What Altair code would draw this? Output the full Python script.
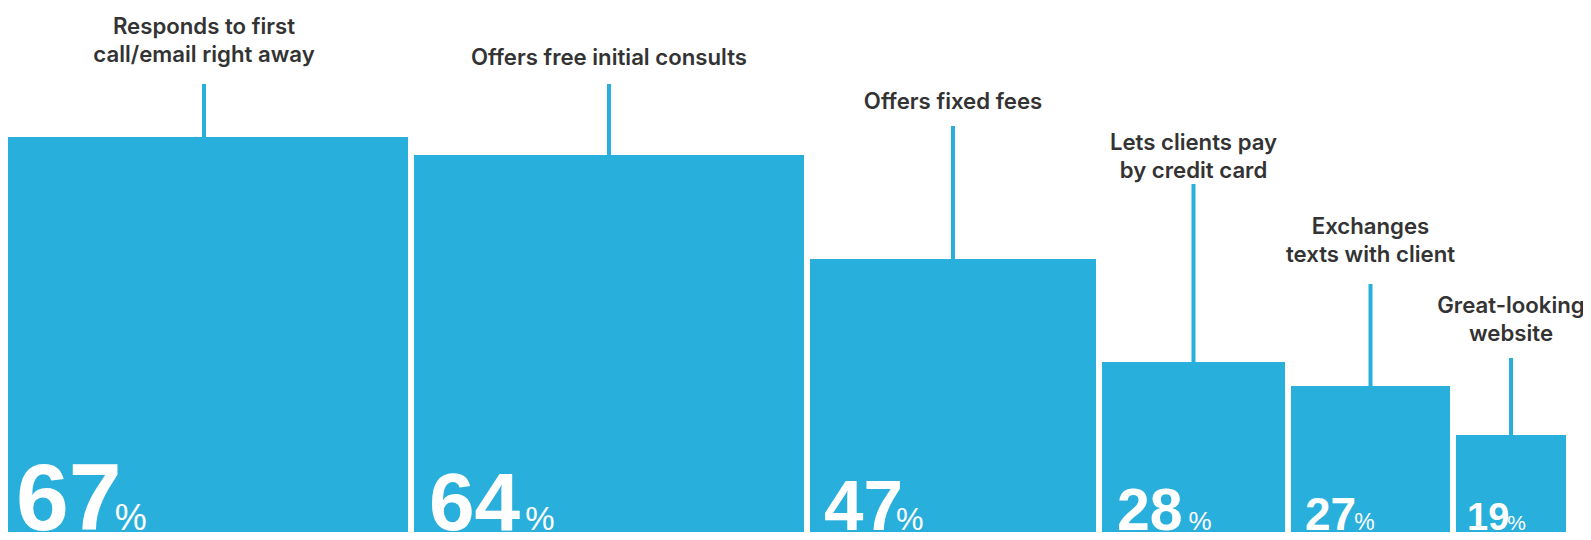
import altair as alt

# ---- data ----
labels = [
    ["Responds to first", "call/email right away"],
    ["Offers free initial consults"],
    ["Offers fixed fees"],
    ["Lets clients pay", "by credit card"],
    ["Exchanges", "texts with client"],
    ["Great-looking", "website"],
]
values = [67, 64, 47, 28, 27, 19]
square_side = [408, 390, 286, 183, 159, 110]   # side of each square block (chart units)

# ---- layout / style ----
GAP = 6
LINE_H = 28
label_base = [483, 480, 436, 367, 283, 204]    # baseline of last label line (chart units)
leader_top = [461, 461, 419, 361, 261, 187]    # top of the leader line (chart units)
num_font = [95, 82, 71, 59, 46, 38]
num_dx = [16, 15, 14, 15, 14, 11]
pct_font = [36, 33, 31, 26, 23, 21]
pct_adjust = [-6, 5, -8, 6, -3, -6]
NUM_BASE = 15
BAR_COLOR = "#28AFDC"
TEXT_COLOR = "#333333"

records = []
x = 0
for i, (lab, v, s) in enumerate(zip(labels, values, square_side)):
    records.append({
        "id": i, "label": lab, "value": v, "num": str(v), "pct": "%",
        "x0": x, "x1": x + s, "xc": x + s / 2,
        "zero": 0, "side": s,
        "label_y": label_base[i] + (len(lab) - 1) * LINE_H,
        "leader_y": leader_top[i],
        "num_y": NUM_BASE,
    })
    x += s + GAP

W, H = 1575, 524
xscale = alt.Scale(domain=[8, 8 + W], nice=False, zero=False)
yscale = alt.Scale(domain=[545 - 8 - H, 537], nice=False, zero=False)

base = alt.Chart(alt.InlineData(values=records))

bars = base.mark_rect(color=BAR_COLOR).encode(
    x=alt.X("x0:Q", scale=xscale, axis=None),
    x2="x1:Q",
    y=alt.Y("zero:Q", scale=yscale, axis=None),
    y2="side:Q",
)

leaders = base.mark_rule(color=BAR_COLOR, strokeWidth=4).encode(
    x=alt.X("xc:Q", scale=xscale, axis=None),
    y=alt.Y("side:Q", scale=yscale, axis=None),
    y2="leader_y:Q",
)

label_text = base.mark_text(
    font="Inter", fontSize=22.2, fontWeight=600, color=TEXT_COLOR,
    align="center", baseline="alphabetic", lineHeight=LINE_H,
).encode(
    x=alt.X("xc:Q", scale=xscale, axis=None),
    y=alt.Y("label_y:Q", scale=yscale, axis=None),
    text=alt.Text("label:N"),
)

layers = [bars, leaders, label_text]
for i in range(len(values)):
    sub = base.transform_filter(alt.datum.id == i)
    layers.append(sub.mark_text(
        font="Liberation Sans", fontWeight="bold", fontSize=num_font[i],
        color="white", align="left", baseline="alphabetic", dx=num_dx[i],
    ).encode(
        x=alt.X("x0:Q", scale=xscale, axis=None),
        y=alt.Y("num_y:Q", scale=yscale, axis=None),
        text=alt.Text("num:N"),
    ))
    layers.append(sub.mark_text(
        font="Liberation Sans", fontWeight="normal", fontSize=pct_font[i],
        color="white", align="left", baseline="alphabetic",
        dx=15 + 2 * 0.556 * num_font[i] + pct_adjust[i],
    ).encode(
        x=alt.X("x0:Q", scale=xscale, axis=None),
        y=alt.Y("num_y:Q", scale=yscale, axis=None),
        text=alt.Text("pct:N"),
    ))

chart = alt.layer(*layers).properties(
    width=W, height=H, padding=0,
    autosize=alt.AutoSizeParams(type="none"),
    background="white",
).configure_view(stroke=None)

chart.save("out.html", embed_options={"renderer": "svg", "actions": False})
